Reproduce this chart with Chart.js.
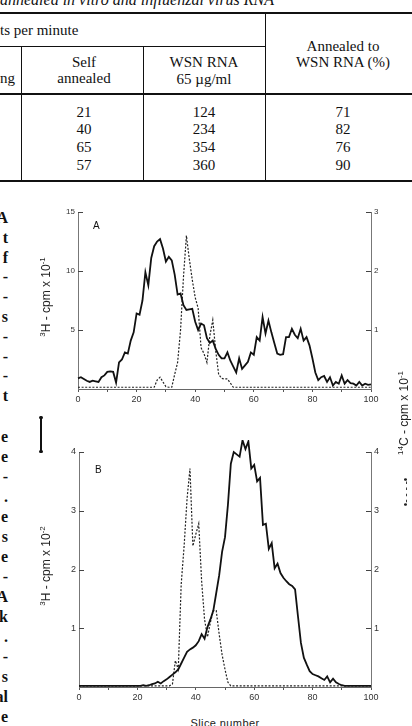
<!DOCTYPE html>
<html>
<head>
<meta charset="utf-8">
<script src="https://cdn.jsdelivr.net/npm/chart.js@4.4.1/dist/chart.umd.min.js"></script>
<style>
  html, body { margin: 0; padding: 0; background: #fff; }
  #page { position: relative; width: 412px; height: 726px; overflow: hidden; font-family: "Liberation Serif", serif; color: #111; }
  .t { position: absolute; white-space: nowrap; font-size: 15px; line-height: 16px; }
  .c { position: absolute; white-space: nowrap; font-size: 15px; line-height: 16px; transform: translateX(-50%); text-align: center; }
  .ln { position: absolute; background: #111; }
  .marg { position: absolute; right: 404px; text-align: right; font-weight: bold; font-size: 16px; }
  .rot { position: absolute; white-space: nowrap; transform: translate(-50%, -50%) rotate(-90deg); font-family: "Liberation Sans", sans-serif; font-size: 12px; color: #222; }
  .rot sup { font-size: 8px; }
  canvas { position: absolute; }
</style>
</head>
<body>
<div id="page">
  <!-- table above the figure -->
  <div class="t" style="left:0;top:-8px;font-style:italic;font-size:16px;">annealed in vitro and influenzal virus RNA</div>
  <div class="ln" style="left:0;top:12px;width:412px;height:2px;"></div>
  <div class="t" style="left:0;top:22px;">ts per minute</div>
  <div class="ln" style="left:0;top:46px;width:265px;height:1px;"></div>
  <div class="ln" style="left:265px;top:13px;width:1px;height:168px;"></div>
  <div class="ln" style="left:21px;top:46px;width:1px;height:135px;"></div>
  <div class="ln" style="left:143px;top:46px;width:1px;height:135px;"></div>
  <div class="t" style="left:0;top:70px;">ng</div>
  <div class="c" style="left:84px;top:54px;">Self</div>
  <div class="c" style="left:84px;top:70px;">annealed</div>
  <div class="c" style="left:204px;top:54px;">WSN RNA</div>
  <div class="c" style="left:204px;top:71px;">65 µg/ml</div>
  <div class="c" style="left:343px;top:38px;">Annealed to</div>
  <div class="c" style="left:343px;top:54px;">WSN RNA (%)</div>
  <div class="ln" style="left:0;top:93px;width:412px;height:2px;"></div>
  <div class="c" style="left:84px;top:104px;">21</div>
  <div class="c" style="left:204px;top:104px;">124</div>
  <div class="c" style="left:343px;top:104px;">71</div>
  <div class="c" style="left:84px;top:121px;">40</div>
  <div class="c" style="left:204px;top:121px;">234</div>
  <div class="c" style="left:343px;top:121px;">82</div>
  <div class="c" style="left:84px;top:139px;">65</div>
  <div class="c" style="left:204px;top:139px;">354</div>
  <div class="c" style="left:343px;top:139px;">76</div>
  <div class="c" style="left:84px;top:157px;">57</div>
  <div class="c" style="left:204px;top:157px;">360</div>
  <div class="c" style="left:343px;top:157px;">90</div>
  <div class="ln" style="left:0;top:180px;width:412px;height:2px;"></div>

  <!-- cut-off text column on the left -->
  <div class="marg" style="top:208px;line-height:19.8px;">A<br>t<br>f<br>-<br>-<br>s<br>-<br>-<br>-<br>t</div>
  <div class="marg" style="top:427px;line-height:20px;">e<br>e<br>-<br>.<br>e<br>s<br>e<br>-<br>A<br>k<br>.<br>-<br>s<br>al<br>e</div>

  <!-- scale bar -->
  <div class="ln" style="left:40px;top:417px;width:1.5px;height:35px;"></div>
  <div class="ln" style="left:38.5px;top:416px;width:4px;height:3px;border-radius:2px;"></div>
  <div class="ln" style="left:38.5px;top:450px;width:4px;height:3px;border-radius:2px;"></div>

  <canvas id="chartA" width="372" height="215" style="left:40px;top:195px;"></canvas>
  <canvas id="chartB" width="372" height="272" style="left:40px;top:440px;"></canvas>

  <div class="t" style="left:93px;top:218px;font-family:'Liberation Sans';font-size:10px;">A</div>
  <div class="t" style="left:95px;top:462px;font-family:'Liberation Sans';font-size:10px;">B</div>

  <div class="rot" style="left:45px;top:297px;"><sup>3</sup>H - cpm x 10<sup>-1</sup></div>
  <div class="rot" style="left:45px;top:566px;"><sup>3</sup>H - cpm x 10<sup>-2</sup></div>
  <div class="rot" style="left:403px;top:413px;"><sup>14</sup>C - cpm x 10<sup>-1</sup></div>
  <div class="rot" style="left:405px;top:492px;font-size:10px;">•- - - -•</div>
  <div class="t" style="left:225px;top:715px;transform:translateX(-50%);font-family:'Liberation Sans';font-size:11px;letter-spacing:0.4px;color:#222;">Slice number</div>
</div>

<script>
// slice numbers along the gradient
const slices = Array.from({ length: 101 }, (_, i) => i);
const xLabels = [0, 20, 40, 60, 80, 100];

// panel A: 3H (x10^-1) and 14C (x10^-1)
const h3A = [
  0.9, 1.0, 0.85, 0.7, 0.6, 0.7, 0.65, 0.6, 1.0, 1.15,
  1.45, 1.5, 1.45, 0.55, 2.25, 2.5, 3.1, 3.0, 4.1, 4.8,
  6.4, 6.3, 7.5, 9.9, 8.8, 11.1, 12.1, 12.5, 12.7, 11.9,
  10.8, 11.2, 10.9, 9.7, 8.0, 8.1, 7.1, 6.7, 6.75, 6.8,
  5.7, 5.0, 5.55, 5.4, 4.3, 3.9, 4.1, 3.4, 2.9, 2.6,
  2.6, 3.1, 2.4, 1.9, 1.4, 2.6, 1.7, 2.0, 2.3, 3.1,
  2.9, 4.4, 4.1, 6.1, 4.7, 5.8, 4.8, 3.9, 3.0, 2.9,
  2.95, 4.4, 4.4, 5.1, 4.6, 4.3, 5.1, 4.1, 4.4, 3.7,
  2.6, 1.4, 0.75, 1.0, 1.1, 0.6, 1.0, 0.3, 0.6, 0.45,
  1.15, 0.45, 0.75, 0.5, 0.45, 0.3, 0.6, 0.3, 0.45, 0.35,
  0.4
];
const c14A = [
  0.03, 0.03, 0.03, 0.03, 0.03, 0.03, 0.03, 0.03, 0.03, 0.03,
  0.03, 0.03, 0.03, 0.03, 0.03, 0.03, 0.03, 0.03, 0.03, 0.03,
  0.03, 0.03, 0.03, 0.03, 0.03, 0.03, 0.03, 0.15, 0.2, 0.12,
  0.04, 0.03, 0.03, 0.25, 0.45, 1.0, 1.9, 2.6, 2.2, 1.85,
  1.55, 1.37, 0.7, 0.6, 0.45, 0.9, 1.17, 0.65, 0.25, 0.18,
  0.17, 0.17, 0.1, 0.03, 0.03, 0.03, 0.03, 0.03, 0.03, 0.03,
  0.03, 0.03, 0.03, 0.03, 0.03, 0.03, 0.03, 0.03, 0.03, 0.03,
  0.03, 0.03, 0.03, 0.03, 0.03, 0.03, 0.03, 0.03, 0.03, 0.03,
  0.03, 0.03, 0.03, 0.03, 0.03, 0.03, 0.03, 0.03, 0.03, 0.03,
  0.03, 0.03, 0.03, 0.03, 0.03, 0.03, 0.03, 0.03, 0.03, 0.03,
  0.03
];

// panel B: 3H (x10^-2) and 14C (x10^-1)
const h3B = [
  0.02, 0.02, 0.02, 0.02, 0.02, 0.02, 0.02, 0.02, 0.02, 0.02,
  0.02, 0.02, 0.02, 0.02, 0.02, 0.02, 0.02, 0.02, 0.02, 0.02,
  0.02, 0.02, 0.03, 0.02, 0.03, 0.05, 0.06, 0.09, 0.06, 0.1,
  0.13, 0.17, 0.21, 0.25, 0.3, 0.4, 0.5, 0.6, 0.64, 0.67,
  0.71, 0.78, 0.9, 0.82, 1.02, 1.15, 1.3, 1.6, 1.9, 2.3,
  2.55, 3.1, 3.8, 4.0, 3.96, 3.92, 4.2, 4.05, 4.18, 3.72,
  3.78, 3.5, 3.56, 2.76, 2.78, 2.35, 2.45, 2.02, 2.1, 1.94,
  1.86, 1.8, 1.75, 1.72, 1.66, 1.2, 0.75, 0.5, 0.38, 0.27,
  0.22, 0.2, 0.18, 0.15, 0.12, 0.18, 0.08, 0.14, 0.08, 0.05,
  0.03, 0.02, 0.02, 0.02, 0.02, 0.02, 0.02, 0.02, 0.02, 0.02,
  0.02
];
const c14B = [
  0.02, 0.02, 0.02, 0.02, 0.02, 0.02, 0.02, 0.02, 0.02, 0.02,
  0.02, 0.02, 0.02, 0.02, 0.02, 0.02, 0.02, 0.02, 0.02, 0.02,
  0.02, 0.02, 0.02, 0.02, 0.02, 0.02, 0.02, 0.02, 0.02, 0.02,
  0.02, 0.02, 0.05, 0.45, 0.3, 1.75, 2.4, 3.2, 3.72, 2.4,
  2.6, 2.78, 1.8, 1.15, 0.85, 1.1, 1.3, 1.3, 0.9, 0.55,
  0.3, 0.08, 0.02, 0.02, 0.02, 0.02, 0.02, 0.02, 0.02, 0.02,
  0.02, 0.02, 0.02, 0.02, 0.02, 0.02, 0.02, 0.02, 0.02, 0.02,
  0.02, 0.02, 0.02, 0.02, 0.02, 0.02, 0.02, 0.02, 0.02, 0.02,
  0.02, 0.02, 0.02, 0.02, 0.02, 0.02, 0.02, 0.02, 0.02, 0.02,
  0.02, 0.02, 0.02, 0.02, 0.02, 0.02, 0.02, 0.02, 0.02, 0.02,
  0.02
];

Chart.defaults.font.family = "'Liberation Sans', sans-serif";
Chart.defaults.color = "#333";

// y axis ticks point into the plot, as in the figure
const inwardTicks = {
  id: "inwardTicks",
  afterDraw(chart) {
    const ctx = chart.ctx;
    ctx.save();
    ctx.strokeStyle = "#444";
    ctx.lineWidth = 1;
    ["y", "y1"].forEach(id => {
      const s = chart.scales[id];
      const x0 = id === "y" ? s.right : s.left;
      const dir = id === "y" ? 1 : -1;
      s.ticks.forEach(t => {
        if (t.value === 0) return;
        const y = Math.round(s.getPixelForValue(t.value)) + 0.5;
        ctx.beginPath();
        ctx.moveTo(x0, y);
        ctx.lineTo(x0 + dir * 5, y);
        ctx.stroke();
      });
    });
    ctx.restore();
  }
};

function makeChart(id, h3, c14, leftMax, leftStep, rightMax, box) {
  return new Chart(document.getElementById(id), {
    type: "line",
    data: {
      datasets: [
        {
          data: slices.map((s, i) => ({ x: s, y: h3[i] })),
          yAxisID: "y",
          borderColor: "#111",
          borderWidth: 1.8,
          pointRadius: 0,
          tension: 0,
          clip: false
        },
        {
          data: slices.map((s, i) => ({ x: s, y: c14[i] })),
          yAxisID: "y1",
          borderColor: "#222",
          borderWidth: 1.2,
          borderDash: [2, 1.6],
          pointRadius: 0,
          tension: 0,
          clip: false
        }
      ]
    },
    options: {
      responsive: false,
      animation: false,
      layout: { padding: { top: box.top, left: 0, right: 0, bottom: 0 } },
      plugins: { legend: { display: false }, tooltip: { enabled: false } },
      scales: {
        x: {
          type: "linear",
          min: 0,
          max: 100,
          afterFit: s => { s.height = box.bottom; },
          ticks: {
            stepSize: 10,
            autoSkip: false,
            maxRotation: 0,
            padding: 2,
            font: { size: 9 },
            callback: v => (xLabels.includes(v) ? v : "")
          },
          grid: { drawOnChartArea: false, tickLength: 3, color: "#555" },
          border: { color: "#666", width: 1 }
        },
        y: {
          min: 0,
          max: leftMax,
          afterFit: s => { s.width = box.left; },
          ticks: { stepSize: leftStep, padding: 3, font: { size: box.font }, callback: v => (v === 0 ? "" : v) },
          grid: { drawOnChartArea: false, drawTicks: false },
          border: { color: "#777", width: 1 }
        },
        y1: {
          position: "right",
          min: 0,
          max: rightMax,
          afterFit: s => { s.width = box.right; },
          ticks: { stepSize: 1, padding: 3, font: { size: box.font }, callback: v => (v === 0 ? "" : v) },
          grid: { drawOnChartArea: false, drawTicks: false },
          border: { color: "#777", width: 1 }
        }
      }
    },
    plugins: [inwardTicks]
  });
}

makeChart("chartA", h3A, c14A, 15, 5, 3, { left: 38, right: 41, top: 17, bottom: 21, font: 8 });
makeChart("chartB", h3B, c14B, 4, 1, 4, { left: 39, right: 41, top: 12, bottom: 25, font: 9 });
</script>
</body>
</html>
